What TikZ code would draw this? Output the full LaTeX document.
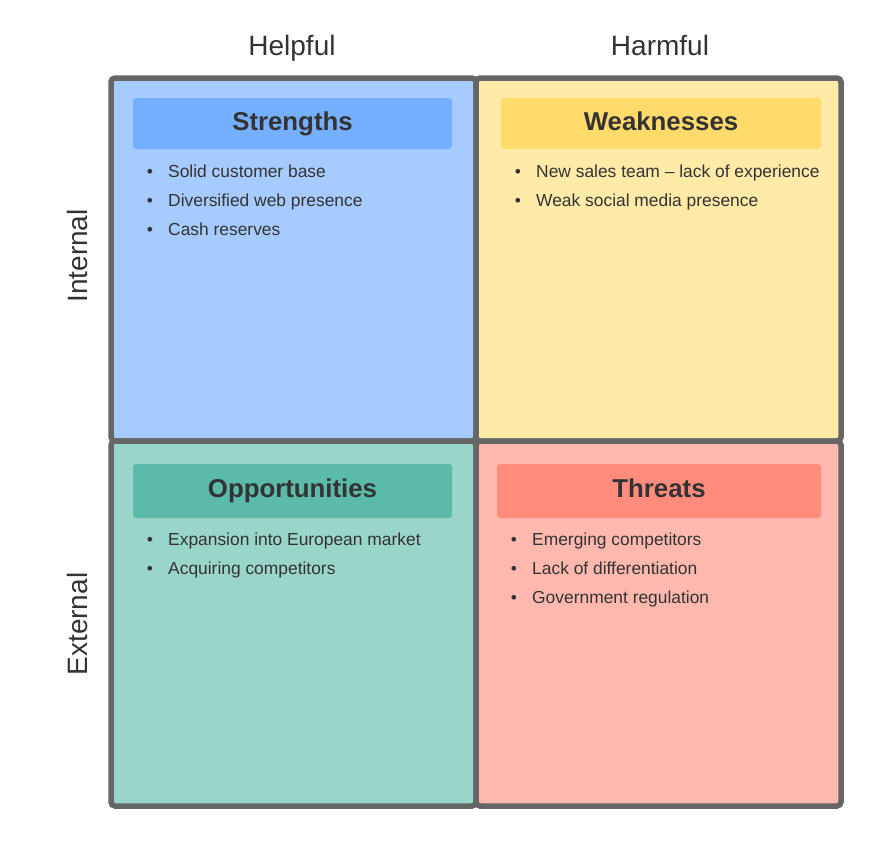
\documentclass[tikz,border=0pt]{standalone}
\usepackage{fontspec}
\setmainfont{Liberation Sans}
\definecolor{bord}{HTML}{666666}
\definecolor{txt}{HTML}{333333}
\definecolor{sfill}{HTML}{A6CBFE}
\definecolor{shead}{HTML}{74B0FE}
\definecolor{wfill}{HTML}{FFEAA8}
\definecolor{whead}{HTML}{FFDB6C}
\definecolor{ofill}{HTML}{9AD5CA}
\definecolor{ohead}{HTML}{5BBAA8}
\definecolor{tfill}{HTML}{FFB8AE}
\definecolor{thead}{HTML}{FF8C7D}
\tikzset{
  quad/.style={draw=bord, line width=5.5pt, rounded corners=4pt},
  headbox/.style={rounded corners=3pt, draw=none},
  headtxt/.style={anchor=base, inner sep=0pt, font=\fontsize{25.8}{30}\selectfont\bfseries, text=txt},
  item/.style={anchor=base west, font=\fontsize{17.4}{20}\selectfont, text=txt, inner sep=0pt},
  bul/.style={anchor=base, font=\fontsize{17.4}{20}\selectfont, text=txt, inner sep=0pt},
  axislabel/.style={anchor=base, inner sep=0pt, font=\fontsize{28}{32}\selectfont, text=txt},
}
\begin{document}
\begin{tikzpicture}[x=1pt,y=-1pt]
\useasboundingbox (0,0) rectangle (895,844);
\fill[white] (0,0) rectangle (895,844);
% quadrants
\draw[quad, fill=sfill] (111,78) rectangle (476,441);
\draw[quad, fill=wfill] (476,78) rectangle (841,441);
\draw[quad, fill=ofill] (111,441) rectangle (476,806);
\draw[quad, fill=tfill] (476,441) rectangle (841,806);
% headers
\fill[headbox, shead] (133,98) rectangle (452,149);
\fill[headbox, whead] (501,98) rectangle (821,149);
\fill[headbox, ohead] (133,464) rectangle (452,518);
\fill[headbox, thead] (497,464) rectangle (821,518);
\node[headtxt] (hs) at (292.5,130) {Strengths};
\node[headtxt] (hw) at (661,130) {Weaknesses};
\node[headtxt] (ho) at (292.5,497) {Opportunities};
\node[headtxt] (ht) at (659,497) {Threats};
% axis labels
\node[axislabel] (lhelp) at (292,55) {Helpful};
\node[axislabel] (lharm) at (660,55) {Harmful};
\node[axislabel, rotate=90] (lint) at (87,256) {Internal};
\node[axislabel, rotate=90] (lext) at (87,624) {External};
% strengths items
\node[bul] (sb1) at (150,177) {•}; \node[item] (s1) at (168,177) {Solid customer base};
\node[bul] (sb2) at (150,206.3) {•}; \node[item] (s2) at (168,206.3) {Diversified web presence};
\node[bul] (sb3) at (150,235.6) {•}; \node[item] (s3) at (168,235.6) {Cash reserves};
% weaknesses items
\node[bul] (wb1) at (518,177) {•}; \node[item] (w1) at (536,177) {New sales team – lack of experience};
\node[bul] (wb2) at (518,206.3) {•}; \node[item] (w2) at (536,206.3) {Weak social media presence};
% opportunities items
\node[bul] (ob1) at (150,545) {•}; \node[item] (o1) at (168,545) {Expansion into European market};
\node[bul] (ob2) at (150,574.3) {•}; \node[item] (o2) at (168,574.3) {Acquiring competitors};
% threats items
\node[bul] (tb1) at (514,545) {•}; \node[item] (t1) at (532,545) {Emerging competitors};
\node[bul] (tb2) at (514,574.3) {•}; \node[item] (t2) at (532,574.3) {Lack of differentiation};
\node[bul] (tb3) at (514,603.6) {•}; \node[item] (t3) at (532,603.6) {Government regulation};
\end{tikzpicture}
\end{document}
